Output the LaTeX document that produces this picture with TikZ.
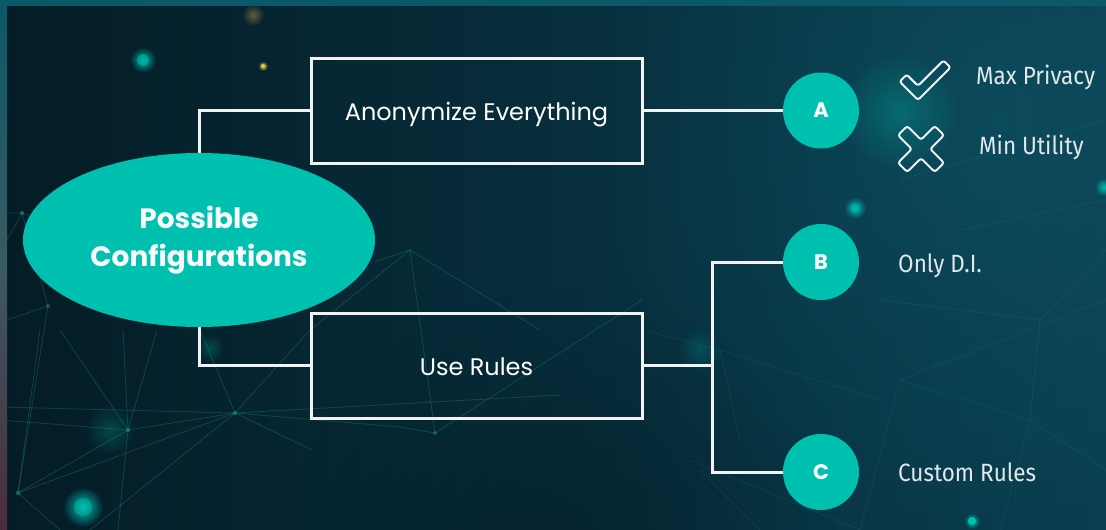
\documentclass[tikz,border=0pt]{standalone}
\usepackage{fontspec}
\newfontfamily\popfont{Poppins}
\newfontfamily\firafont[FakeStretch=0.9]{Fira Sans}
\usetikzlibrary{shapes.geometric,fadings}
\definecolor{bgL}{HTML}{041C26}
\definecolor{bgR}{HTML}{0A3F50}
\definecolor{bgglow}{HTML}{0E5668}
\definecolor{accent}{HTML}{00C1B0}
\definecolor{linecol}{HTML}{F2F2F2}
\definecolor{labelcol}{HTML}{E2E8EA}
\definecolor{framecol}{HTML}{0B5868}
\definecolor{framebot}{HTML}{4E2B3C}
\definecolor{framemid}{HTML}{3A5A62}
\definecolor{netcol}{HTML}{1E8A80}
\definecolor{yelcol}{HTML}{E8C64A}
\definecolor{browncol}{HTML}{7A6A3A}
\tikzfading[name=glowfade, inner color=transparent!0, outer color=transparent!100]
\tikzset{
  conn/.style={draw=linecol, line width=3pt},
  optbox/.style={draw=linecol, line width=3pt, minimum width=331pt, minimum height=105pt, inner sep=0pt,
    text height=20pt, text depth=0pt, text=white, font=\popfont\fontsize{24}{28}\selectfont},
  lettercircle/.style={circle, fill=accent, minimum size=76pt, inner sep=0pt, text=white,
    font=\popfont\bfseries\fontsize{21}{24}\selectfont},
  sidelabel/.style={anchor=base west, inner sep=0pt, text=labelcol, font=\firafont\fontsize{25}{28}\selectfont},
  net/.style={draw=netcol, line width=0.8pt, opacity=0.35},
  fnet/.style={draw=netcol, line width=0.8pt, opacity=0.18},
  icon/.style={draw=linecol, line width=2pt, rounded corners=2.5pt, line join=round}
}
\begin{document}
\begin{tikzpicture}[x=1pt,y=-1pt]
\useasboundingbox (0,0) rectangle (1106,530);
% background
\shade[left color=bgL, right color=bgR] (0,0) rectangle (1106,530);
\fill[bgglow, path fading=glowfade, opacity=0.55] (1000,120) circle (420);
\fill[bgL, path fading=glowfade, opacity=0.6] (560,570) circle (280);
% network lines
\draw[net] (128,430) -- (235,413) -- (400,427);
\draw[net] (128,430) -- (18,493);
\draw[net] (128,430) -- (123,330);
\draw[net] (128,430) -- (157,330);
\draw[net] (128,430) -- (60,330);
\draw[net] (128,430) -- (118,530);
\draw[net] (235,413) -- (310,330);
\draw[net] (235,413) -- (200,330);
\draw[net] (235,413) -- (18,493);
\draw[net] (235,413) -- (90,530);
\draw[net] (0,407) -- (235,413);
\draw[net] (0,420) -- (128,430);
\draw[net] (18,493) -- (40,330);
\draw[net] (18,493) -- (60,530);
\draw[net] (235,413) -- (312,450);
\draw[net] (400,427) -- (435,433) -- (642,300);
\draw[net] (235,413) -- (560,395);
\draw[net] (7,213) -- (22,213) -- (60,225);
\draw[net] (22,213) -- (7,240);
\draw[net] (22,213) -- (48,306) -- (18,493);
\draw[net] (48,306) -- (7,320);
\draw[net] (375,262) -- (410,250) -- (310,330);
\draw[net] (410,250) -- (435,433);
\draw[net] (410,250) -- (540,330);
\draw[fnet] (642,330) -- (720,350) -- (880,400);
\draw[fnet] (720,350) -- (740,440);
\draw[fnet] (860,530) -- (900,380) -- (1106,300);
\draw[fnet] (900,380) -- (1030,420) -- (1106,470);
\draw[fnet] (1030,420) -- (1000,530);
\draw[fnet] (880,300) -- (1040,320) -- (1106,250);
\draw[fnet] (1040,320) -- (1030,420);
\draw[fnet] (960,230) -- (1106,200);
\draw[fnet] (900,180) -- (1106,120);
\draw[fnet] (700,470) -- (760,530);
\draw[fnet] (690,460) -- (860,530);
% glows and dots
\fill[accent, path fading=glowfade, opacity=0.9] (143,60) circle (13);
\fill[accent, opacity=0.5] (143,60) circle (6);
\fill[yelcol, path fading=glowfade] (263,66) circle (5);
\fill[yelcol] (263,66) circle (2);
\fill[browncol, path fading=glowfade, opacity=0.8] (253,15) circle (11);
\fill[accent, path fading=glowfade] (83,507) circle (20);
\fill[accent, opacity=0.45] (83,507) circle (9);
\fill[accent, path fading=glowfade, opacity=0.25] (110,430) circle (25);
\fill[accent, path fading=glowfade] (855,208) circle (11);
\fill[accent, opacity=0.4] (855,208) circle (5);
\fill[accent, path fading=glowfade] (972,521) circle (8);
\fill[accent] (972,521) circle (4);
\fill[accent, path fading=glowfade] (1104,187) circle (9);
\fill[accent, path fading=glowfade, opacity=0.3] (900,112) circle (60);
\fill[accent, path fading=glowfade, opacity=0.2] (700,350) circle (22);
\fill[accent, path fading=glowfade, opacity=0.25] (210,348) circle (14);
\fill[netcol, opacity=0.6] (128,430) circle (2.2);
\fill[netcol, opacity=0.6] (235,413) circle (2.2);
\fill[netcol, opacity=0.6] (18,493) circle (2.2);
\fill[netcol, opacity=0.6] (22,213) circle (2.2);
\fill[netcol, opacity=0.5] (48,306) circle (2);
\fill[netcol, opacity=0.5] (435,433) circle (2);
% frame bands
\fill[framecol] (0,0) rectangle (1106,6);
\shade[top color=framecol, bottom color=framebot, middle color=framemid] (0,0) rectangle (7,530);
% nodes
\node[ellipse, fill=accent, minimum width=352pt, minimum height=174pt, inner sep=0pt, text=white!95!gray,
  align=center, font=\popfont\bfseries\fontsize{28}{38}\selectfont] (pc) at (199,240) {Possible\\Configurations};
\node[optbox] (b1) at (476.5,110.5) {Anonymize Everything};
\node[optbox] (b2) at (476.5,365.5) {Use Rules};
\node[lettercircle] (A) at (821,110.5) {A};
\node[lettercircle] (B) at (821,262) {B};
\node[lettercircle] (C) at (821,472) {C};
\coordinate (j) at (712,365.5);
% connectors
\draw[conn] (pc.north) |- (b1.west);
\draw[conn] (pc.south) |- (b2.west);
\draw[conn] (b1.east) -- (A.west);
\draw[conn] (b2.east) -- (j);
\draw[conn] (B.west) -| (j) |- (C.west);
% icons
\begin{scope}[shift={(918,100)}, rotate=45]
\draw[icon] (0,0) -- (46,0) -- (46,-10) -- (10,-10) -- (10,-26) -- (0,-26) -- cycle;
\end{scope}
\begin{scope}[shift={(921,149)}, rotate=45]
\draw[icon] (6.5,26) -- (6.5,6.5) -- (26,6.5) -- (26,-6.5) -- (6.5,-6.5) -- (6.5,-26) -- (-6.5,-26)
  -- (-6.5,-6.5) -- (-26,-6.5) -- (-26,6.5) -- (-6.5,6.5) -- (-6.5,26) -- cycle;
\end{scope}
% labels
\node[sidelabel] (l1) at (976,84) {Max Privacy};
\node[sidelabel] (l2) at (979,154) {Min Utility};
\node[sidelabel] (l3) at (898,272) {Only D.I.};
\node[sidelabel] (l4) at (898,481) {Custom Rules};
\end{tikzpicture}
\end{document}
